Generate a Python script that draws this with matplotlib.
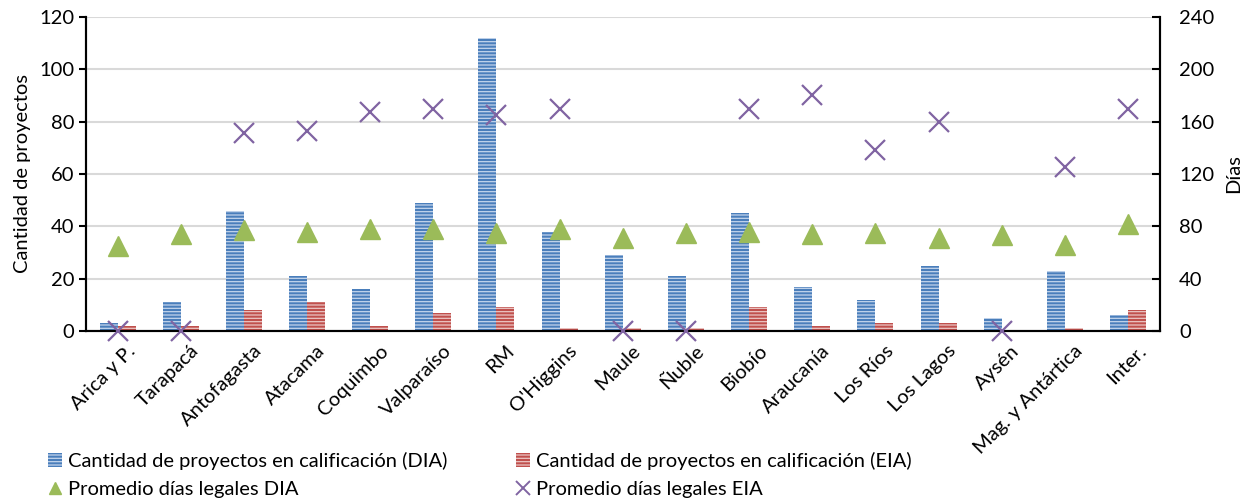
import matplotlib
matplotlib.use("Agg")
import matplotlib.pyplot as plt
import matplotlib.transforms as mtransforms
import numpy as np
from matplotlib.patches import Patch
from matplotlib.lines import Line2D

plt.rcParams['font.family'] = ['Lato', 'DejaVu Sans']

regiones = ["Arica y P.", "Tarapacá", "Antofagasta", "Atacama", "Coquimbo",
            "Valparaíso", "RM", "O'Higgins", "Maule", "Ñuble", "Biobío",
            "Araucanía", "Los Ríos", "Los Lagos", "Aysén", "Mag. y Antártica",
            "Inter."]
proyectos_dia = [3, 11, 46, 21, 16, 49, 112, 38, 29, 21, 45, 17, 12, 25, 5, 23, 6]
proyectos_eia = [2, 2, 8, 11, 2, 7, 9, 1, 1, 1, 9, 2, 3, 3, 0, 1, 8]
dias_dia = [65, 74, 77, 76, 78, 78, 75, 78, 71, 75, 76, 74, 75, 71, 73, 66, 82]
dias_eia = [0, 0, 151, 153, 167, 170, 165, 170, 0, 0, 170, 180, 138, 160, 0, 125, 170]

azul = "#4a7ebb"
rojo = "#c0504d"
verde = "#9bbb59"
morado = "#8064a2"
raya_azul = "#c3d4ec"
raya_roja = "#ebc4c3"

fs = 14.5

fig = plt.figure(figsize=(12.55, 4.99), dpi=100)
ax = fig.add_axes([0.0685, 0.3367, 0.8555, 0.6293])
ax2 = ax.twinx()

x = np.arange(len(regiones))
w = 0.285

plt.rcParams['hatch.linewidth'] = 0.9
ax.bar(x - w / 2, proyectos_dia, w, color=azul, edgecolor=raya_azul,
       hatch="-----", linewidth=0, zorder=2)
ax.bar(x + w / 2, proyectos_eia, w, color=rojo, edgecolor=raya_roja,
       hatch="-----", linewidth=0, zorder=2)

ax2.plot(x, dias_dia, linestyle="none", marker="^", markersize=15,
         color=verde, clip_on=False, zorder=3)
ax2.plot(x, dias_eia, linestyle="none", marker="x", markersize=15,
         markeredgewidth=1.6, color=morado, clip_on=False, zorder=3)

ax.set_xlim(-0.5, len(regiones) - 0.5)
ax.set_ylim(0, 120)
ax.set_yticks(range(0, 121, 20))
ax2.set_ylim(0, 240)
ax2.set_yticks(range(0, 241, 40))

ax.yaxis.grid(True, color="#d9d9d9", linewidth=1.5, zorder=0)
ax.set_axisbelow(True)
ax.set_zorder(ax2.get_zorder() - 1)
ax.patch.set_visible(False)
ax2.patch.set_visible(False)

for a in (ax, ax2):
    a.spines['top'].set_visible(False)
    for s in ('left', 'right', 'bottom'):
        a.spines[s].set_linewidth(1.5)
        a.spines[s].set_color("black")

ax.set_xticks(x)
ax.set_xticklabels(regiones, rotation=45, ha="right", rotation_mode="anchor",
                   fontsize=fs)
ax.tick_params(axis='x', length=0, pad=8)
shift = mtransforms.ScaledTranslation(9 / 100, 0, fig.dpi_scale_trans)
for lbl in ax.get_xticklabels():
    lbl.set_transform(lbl.get_transform() + shift)

ax.tick_params(axis='y', labelsize=fs, direction='out', length=5, width=1.5)
ax2.tick_params(axis='y', labelsize=fs, direction='in', length=6, width=1.5,
                pad=14)

ax.set_ylabel("Cantidad de proyectos", fontsize=fs, labelpad=6)
ax2.set_ylabel("Días", fontsize=fs, labelpad=8)

handles = [
    Patch(facecolor=azul, edgecolor=raya_azul, hatch="-----", linewidth=0),
    Line2D([], [], linestyle="none", marker="^", markersize=9, color=verde),
    Patch(facecolor=rojo, edgecolor=raya_roja, hatch="-----", linewidth=0),
    Line2D([], [], linestyle="none", marker="x", markersize=10,
           markeredgewidth=1.4, color=morado),
]
labels = ["Cantidad de proyectos en calificación (DIA)",
          "Promedio días legales DIA",
          "Cantidad de proyectos en calificación (EIA)",
          "Promedio días legales EIA"]
fig.legend(handles, labels, ncol=2, loc="lower left",
           bbox_to_anchor=(0.024, -0.035), frameon=False, fontsize=fs,
           handlelength=0.7, handleheight=0.7, handletextpad=0.3,
           columnspacing=3.4, labelspacing=0.55)

fig.savefig("out.png", dpi=100)
